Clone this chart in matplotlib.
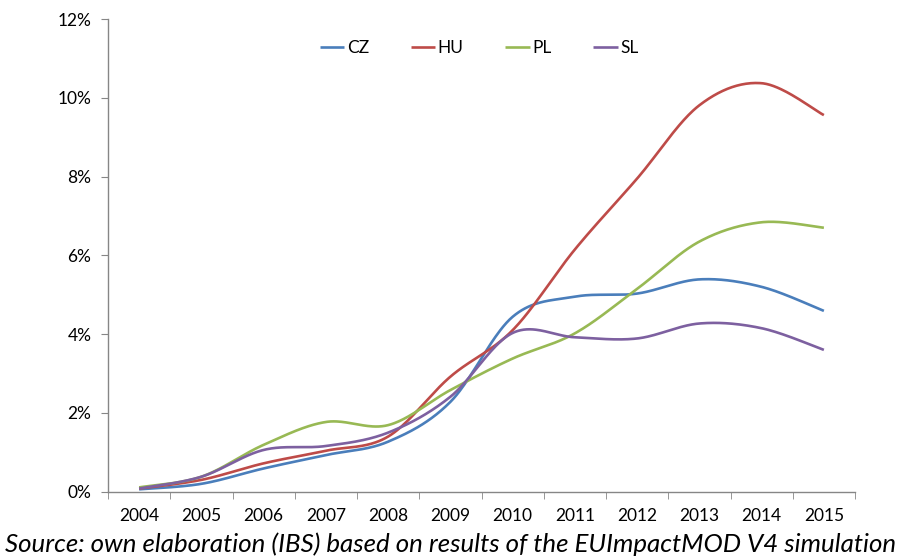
import numpy as np
import matplotlib
matplotlib.use("Agg")
import matplotlib.pyplot as plt
from matplotlib.ticker import FuncFormatter

years = ["2004", "2005", "2006", "2007", "2008", "2009", "2010",
         "2011", "2012", "2013", "2014", "2015"]
cz = [0.06, 0.20, 0.59, 0.93, 1.27, 2.28, 4.44, 4.95, 5.03, 5.39, 5.20, 4.59]
hu = [0.08, 0.30, 0.72, 1.04, 1.40, 2.92, 4.10, 6.15, 7.95, 9.81, 10.37, 9.56]
pl = [0.11, 0.38, 1.19, 1.77, 1.69, 2.58, 3.38, 4.02, 5.15, 6.35, 6.84, 6.70]
sl = [0.08, 0.38, 1.06, 1.16, 1.50, 2.41, 4.03, 3.92, 3.89, 4.27, 4.15, 3.60]

series = [("CZ", cz, "#4A7EBB"), ("HU", hu, "#BE4B48"),
          ("PL", pl, "#98B954"), ("SL", sl, "#7D60A0")]


def smooth(xs, ys, n=40):
    """Excel-like smoothed line (Catmull-Rom via cubic Bezier)."""
    xs = np.asarray(xs, float)
    ys = np.asarray(ys, float)
    P = np.column_stack([xs, ys])
    out = []
    m = len(P)
    for i in range(m - 1):
        p0 = P[i - 1] if i > 0 else P[i]
        p1 = P[i]
        p2 = P[i + 1]
        p3 = P[i + 2] if i + 2 < m else P[i + 1]
        c1 = p1 + (p2 - p0) / 6.0
        c2 = p2 - (p3 - p1) / 6.0
        t = np.linspace(0, 1, n, endpoint=(i == m - 2))[:, None]
        b = ((1 - t) ** 3) * p1 + 3 * ((1 - t) ** 2) * t * c1 + 3 * (1 - t) * t ** 2 * c2 + t ** 3 * p2
        out.append(b)
    out = np.vstack(out)
    return out[:, 0], out[:, 1]


plt.rcParams['font.family'] = ['Lato', 'DejaVu Sans']

fig = plt.figure(figsize=(9.01, 5.58), dpi=100)
ax = fig.add_axes([108 / 901, 1 - 491.7 / 558, (855 - 108) / 901, (491.7 - 19) / 558])

x = np.arange(len(years))
for name, vals, col in series:
    sx, sy = smooth(x, vals)
    ax.plot(sx, sy, color=col, lw=1.9, label=name, solid_capstyle='butt')

ax.set_xlim(-0.5, len(years) - 0.5)
ax.set_ylim(0, 12)
ax.set_yticks(np.arange(0, 13, 2))
ax.yaxis.set_major_formatter(FuncFormatter(lambda v, p: f"{int(round(v))}%"))
ax.set_xticks(x)
ax.set_xticklabels(years)
ax.set_xticks(np.arange(-0.5, len(years), 1), minor=True)

for s in ["top", "right"]:
    ax.spines[s].set_visible(False)
for s in ["left", "bottom"]:
    ax.spines[s].set_color("#868686")
    ax.spines[s].set_linewidth(1.0)

ax.tick_params(axis='x', which='major', length=0, pad=12, labelsize=12.5, colors='black')
ax.tick_params(axis='x', which='minor', length=5, color='#868686', direction='out')
ax.tick_params(axis='y', which='major', length=5, color='#868686', direction='out',
               labelsize=12.5, pad=7)

ax.legend(loc='center', bbox_to_anchor=(0.497, 0.9386), ncol=4, frameon=False,
          fontsize=12.5, handlelength=1.4, handletextpad=0.15, columnspacing=2.4)

fig.text(0.5, 1 - 544 / 558, "Source: own elaboration (IBS) based on results of the EUImpactMOD V4 simulation",
         ha='center', va='center', style='italic', fontsize=18.6)

fig.savefig("out.png", dpi=100)
